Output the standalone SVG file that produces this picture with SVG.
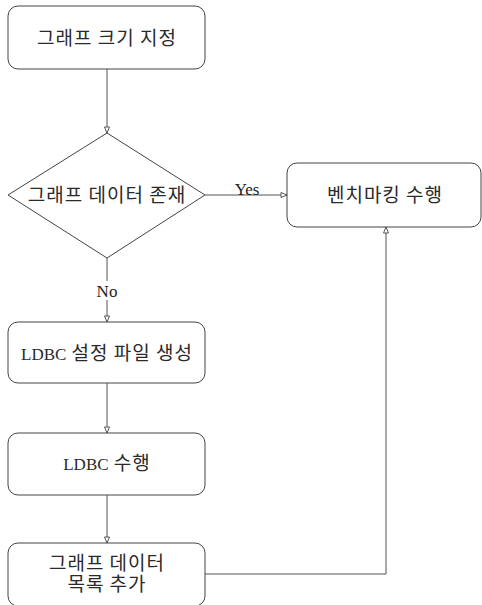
<svg xmlns="http://www.w3.org/2000/svg" width="482" height="605" viewBox="0 0 482 605">
<style>
.box{fill:#fff;stroke:#444;stroke-width:1}
.ln{fill:none;stroke:#555;stroke-width:1}
.ko{font-family:"Noto Sans CJK KR","Noto Sans",sans-serif;font-size:19px;letter-spacing:1px;fill:#2a2a2a;text-anchor:middle}
.sr{font-family:"Liberation Serif","Noto Sans CJK KR",serif;font-size:17px;fill:#222;text-anchor:middle}
.ld{font-family:"Liberation Serif",serif;font-size:17px;letter-spacing:0}
</style>
<defs>
<marker id="arr" markerWidth="8" markerHeight="8" refX="7" refY="4" orient="auto" markerUnits="userSpaceOnUse">
<path d="M1,1.5 L7,4 L1,6.5 Z" fill="#fff" stroke="#555" stroke-width="1"/>
</marker>
</defs>
<rect width="482" height="605" fill="#fff"/>
<g id="connectors">
<line class="ln" x1="107" y1="69" x2="107" y2="133" marker-end="url(#arr)"/>
<line class="ln" x1="205" y1="195" x2="287" y2="195" marker-end="url(#arr)"/>
<line class="ln" x1="107" y1="258" x2="107" y2="281"/>
<line class="ln" x1="107" y1="300" x2="107" y2="322" marker-end="url(#arr)"/>
<line class="ln" x1="107" y1="383" x2="107" y2="433" marker-end="url(#arr)"/>
<line class="ln" x1="107" y1="495" x2="107" y2="543" marker-end="url(#arr)"/>
<polyline class="ln" points="205,574 386,574 386,227" marker-end="url(#arr)"/>
<text class="sr" x="247" y="195">Yes</text>
<text class="sr" x="107" y="297">No</text>
</g>
<g id="n1"><rect class="box" x="8" y="6" width="197" height="63" rx="10"/><text class="ko" x="107" y="45">그래프 크기 지정</text></g>
<g id="n2"><path class="box" d="M107,133 L205,195 L107,258 L8,195 Z"/><text class="ko" x="107" y="202">그래프 데이터 존재</text></g>
<g id="n3"><rect class="box" x="287" y="163" width="194" height="64" rx="10"/><text class="ko" x="385" y="202">벤치마킹 수행</text></g>
<g id="n4"><rect class="box" x="8" y="322" width="197" height="61" rx="10"/><text class="ko" x="107" y="360"><tspan class="ld">LDBC</tspan> 설정 파일 생성</text></g>
<g id="n5"><rect class="box" x="8" y="433" width="197" height="62" rx="10"/><text class="ko" x="107" y="470"><tspan class="ld">LDBC</tspan> 수행</text></g>
<g id="n6"><rect class="box" x="8" y="543" width="197" height="63" rx="10"/><text class="ko" x="107" y="570"><tspan x="107">그래프 데이터</tspan><tspan x="107" dy="21">목록 추가</tspan></text></g>
</svg>
